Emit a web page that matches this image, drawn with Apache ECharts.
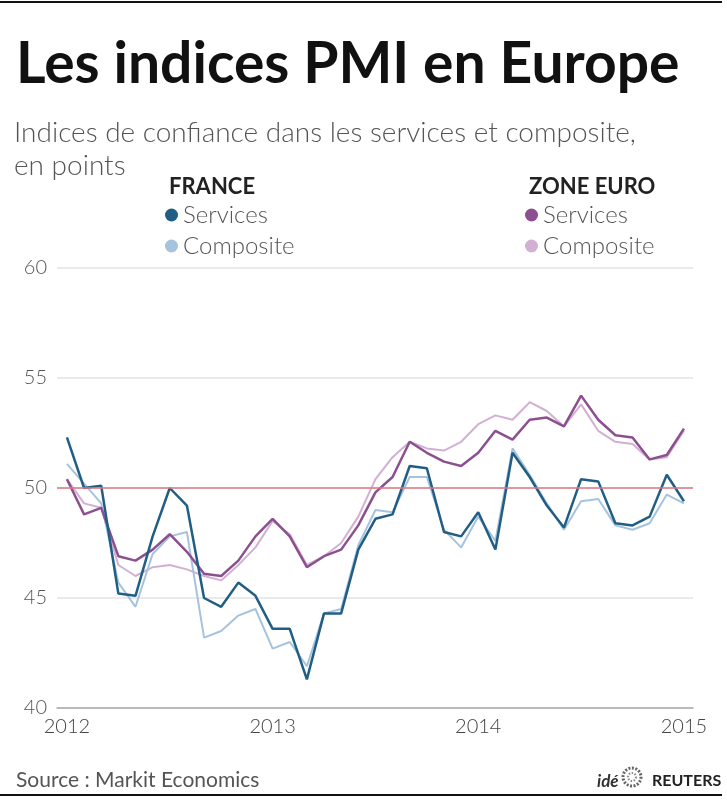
<!DOCTYPE html>
<html>
<head>
<meta charset="utf-8">
<script src="https://cdn.jsdelivr.net/npm/echarts@6/dist/echarts.min.js"></script>
<style>
html,body{margin:0;padding:0;background:#fff;}
#chart{width:727px;height:800px;}
</style>
</head>
<body>
<div id="chart"></div>
<script>
// Monthly data, Jan 2012 .. Jan 2015
const months = ["2012-01","2012-02","2012-03","2012-04","2012-05","2012-06","2012-07","2012-08","2012-09","2012-10","2012-11","2012-12",
"2013-01","2013-02","2013-03","2013-04","2013-05","2013-06","2013-07","2013-08","2013-09","2013-10","2013-11","2013-12",
"2014-01","2014-02","2014-03","2014-04","2014-05","2014-06","2014-07","2014-08","2014-09","2014-10","2014-11","2014-12","2015-01"];
const yearTicks = [0, 12, 24, 36];
const yearLabels = ["2012", "2013", "2014", "2015"];

const frServices = [52.3,50.0,50.1,45.2,45.1,47.8,50.0,49.2,45.0,44.6,45.7,45.1,43.6,43.6,41.3,44.3,44.3,47.2,48.6,48.8,51.0,50.9,48.0,47.8,48.9,47.2,51.6,50.5,49.2,48.2,50.4,50.3,48.4,48.3,48.7,50.6,49.4];
const frComposite = [51.1,50.2,49.3,45.7,44.6,47.0,47.8,48.0,43.2,43.5,44.2,44.5,42.7,43.0,41.9,44.3,44.5,47.4,49.0,48.9,50.5,50.5,48.1,47.3,48.7,47.6,51.8,50.6,49.3,48.1,49.4,49.5,48.3,48.1,48.4,49.7,49.3];
const euServices = [50.4,48.8,49.1,46.9,46.7,47.2,47.9,47.1,46.1,46.0,46.7,47.8,48.6,47.8,46.4,46.9,47.2,48.3,49.8,50.5,52.1,51.6,51.2,51.0,51.6,52.6,52.2,53.1,53.2,52.8,54.2,53.1,52.4,52.3,51.3,51.5,52.7];
const euComposite = [50.4,49.3,49.1,46.5,46.0,46.4,46.5,46.3,46.0,45.8,46.5,47.3,48.5,47.9,46.5,46.9,47.5,48.7,50.4,51.4,52.1,51.8,51.7,52.1,52.9,53.3,53.1,53.9,53.5,52.8,53.8,52.6,52.1,52.0,51.3,51.4,52.6];
const yTicks = [40, 45, 50, 55, 60];
const refLevel = 50;

const toPairs = arr => arr.map((v, i) => [i, v]);
const FONT = 'Lato, "Open Sans", sans-serif';
const C = { frS: '#215e85', frC: '#a6c3de', euS: '#8c4f8f', euC: '#d2b0d4' };
const displayName = { 'FR Services': 'Services', 'FR Composite': 'Composite', 'EU Services': 'Services', 'EU Composite': 'Composite' };

const chart = echarts.init(document.getElementById('chart'), null, { renderer: 'canvas' });
chart.setOption({
  backgroundColor: '#fff',
  animation: false,
  title: [
    { text: 'Les indices PMI en Europe', left: 11, top: 31, textStyle: { fontFamily: FONT, fontSize: 57, fontWeight: 'bold', color: '#111' } },
    { text: 'Indices de confiance dans les services et composite,\nen points', left: 9, top: 111, textStyle: { fontFamily: FONT, fontSize: 28, fontWeight: 300, color: '#555', lineHeight: 33 } },
    { text: 'FRANCE', left: 164, top: 171, textStyle: { fontFamily: FONT, fontSize: 22, fontWeight: 'bold', color: '#222' } },
    { text: 'ZONE EURO', left: 524, top: 171, textStyle: { fontFamily: FONT, fontSize: 22, fontWeight: 'bold', color: '#222' } },
    { text: 'Source : Markit Economics', left: 11, top: 765, textStyle: { fontFamily: FONT, fontSize: 21, fontWeight: 'normal', color: '#555' } },
    { text: '{a|idé}', left: 592, top: 768, textStyle: { rich: {
        a: { fontFamily: FONT, fontSize: 17, fontStyle: 'italic', fontWeight: 'bold', color: '#333' } } } },
    { text: '{b|REUTERS}', left: 647, top: 768, textStyle: { rich: {
        b: { fontFamily: FONT, fontSize: 16, fontWeight: 'bold', color: '#222' } } } }
  ],
  legend: [
    { data: ['FR Services', 'FR Composite'], left: 160, top: 198, orient: 'vertical', icon: 'circle', itemWidth: 13, itemHeight: 13, itemGap: 7,
      formatter: n => displayName[n], textStyle: { fontFamily: FONT, fontSize: 24, fontWeight: 300, color: '#555' }, selectedMode: false },
    { data: ['EU Services', 'EU Composite'], left: 520, top: 198, orient: 'vertical', icon: 'circle', itemWidth: 13, itemHeight: 13, itemGap: 7,
      formatter: n => displayName[n], textStyle: { fontFamily: FONT, fontSize: 24, fontWeight: 300, color: '#555' }, selectedMode: false }
  ],
  grid: { left: 57, right: 34, top: 268, bottom: 92, containLabel: false },
  xAxis: {
    type: 'value', min: -0.58, max: 36.53,
    axisLine: { show: true, lineStyle: { color: '#aaa', width: 1.5 } },
    axisTick: { show: false },
    splitLine: { show: false },
    axisLabel: { customValues: yearTicks, formatter: v => yearLabels[yearTicks.indexOf(Math.round(v))] || '',
      fontFamily: FONT, fontSize: 20, fontWeight: 300, color: '#444', margin: 9 }
  },
  yAxis: {
    type: 'value', min: 40, max: 60, interval: 5,
    axisLine: { show: false }, axisTick: { show: false },
    splitLine: { show: true, lineStyle: { color: '#e3e3e3', width: 1.5 } },
    axisLabel: { fontFamily: FONT, fontSize: 20, fontWeight: 300, color: '#555', margin: 10, showMinLabel: true }
  },
  series: [
    { name: 'EU Composite', type: 'line', data: toPairs(euComposite), symbol: 'none', color: C.euC, lineStyle: { width: 2 },
      markLine: { silent: true, symbol: 'none', label: { show: false }, lineStyle: { color: '#de7a85', width: 1.5, type: 'solid' }, data: [{ yAxis: refLevel }] } },
    { name: 'FR Composite', type: 'line', data: toPairs(frComposite), symbol: 'none', color: C.frC, lineStyle: { width: 2 } },
    { name: 'EU Services', type: 'line', data: toPairs(euServices), symbol: 'none', color: C.euS, lineStyle: { width: 2.5 } },
    { name: 'FR Services', type: 'line', data: toPairs(frServices), symbol: 'none', color: C.frS, lineStyle: { width: 2.5 } }
  ],
  graphic: [
    { type: 'line', shape: { x1: 0, y1: 2, x2: 722, y2: 2 }, style: { stroke: '#111', lineWidth: 2 } },
    { type: 'line', shape: { x1: 0, y1: 795, x2: 722, y2: 795 }, style: { stroke: '#111', lineWidth: 2 } },
    { type: 'circle', shape: { cx: 632, cy: 777, r: 9 }, style: { fill: 'none', stroke: '#666', lineWidth: 3, lineDash: [2, 1.5] } },
    { type: 'circle', shape: { cx: 632, cy: 777, r: 4 }, style: { fill: 'none', stroke: '#888', lineWidth: 2, lineDash: [1.5, 1.5] } }
  ]
});
</script>
</body>
</html>
